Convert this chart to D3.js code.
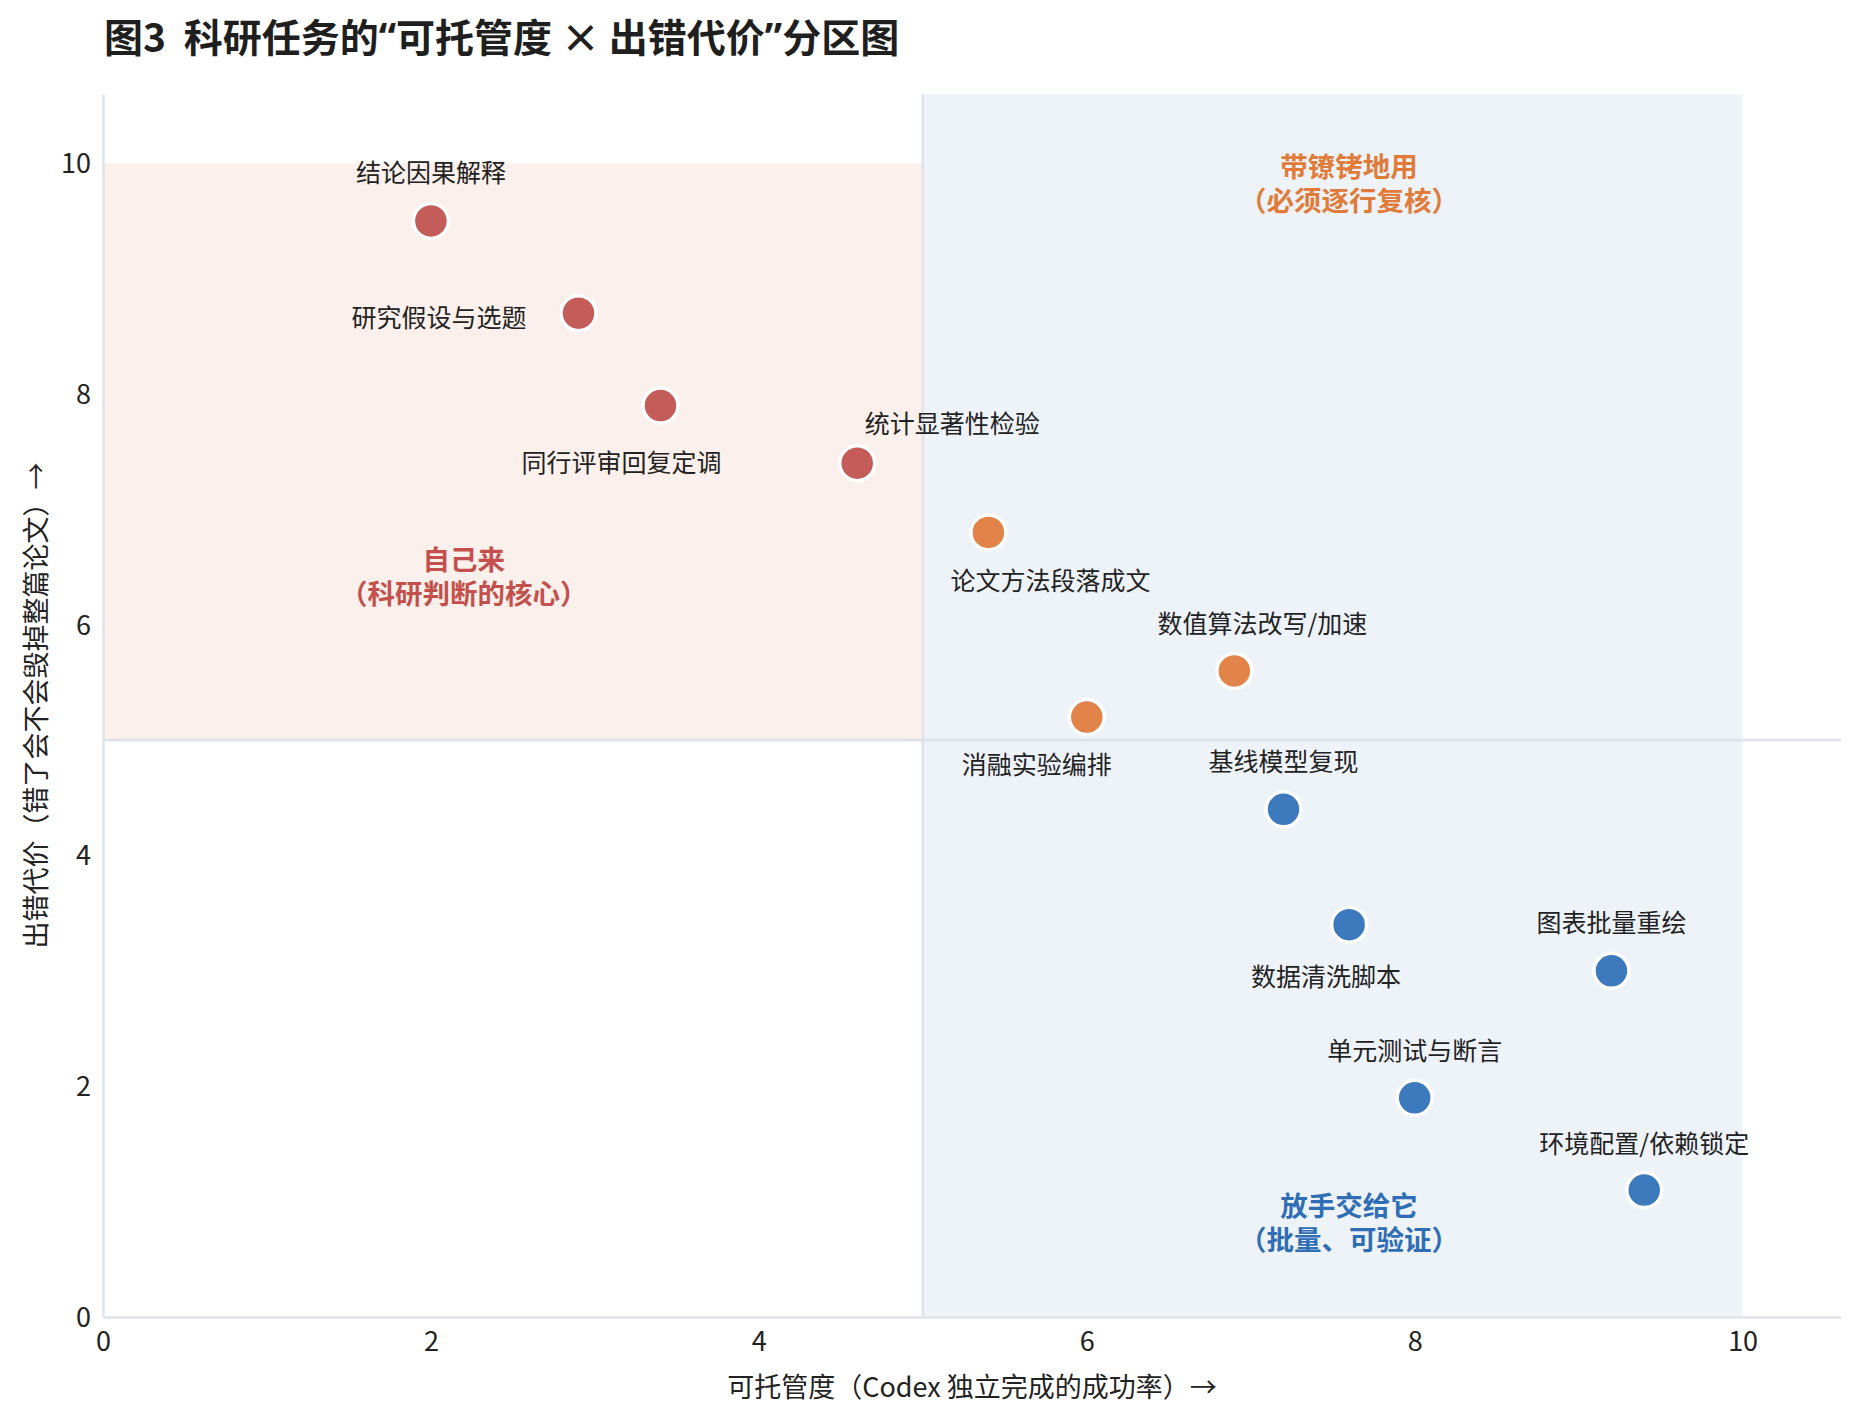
<!DOCTYPE html>
<html lang="zh-CN">
<head>
<meta charset="utf-8">
<script src="https://cdn.jsdelivr.net/npm/d3@7"></script>
<style>
  html, body { margin: 0; padding: 0; background: #fff; }
  svg { display: block; font-family: "Noto Sans CJK SC", "Noto Sans", sans-serif; }
</style>
</head>
<body>
<svg id="chart" width="1859" height="1419"></svg>
<script>
// 科研任务分区图：可托管度 x 出错代价
const TASKS = [
  "结论因果解释", "研究假设与选题", "同行评审回复定调", "统计显著性检验",
  "论文方法段落成文", "数值算法改写/加速", "消融实验编排",
  "基线模型复现", "数据清洗脚本", "图表批量重绘", "单元测试与断言", "环境配置/依赖锁定",
];
const TRUST = [2.0, 2.9, 3.4, 4.6, 5.4, 6.9, 6.0, 7.2, 7.6, 9.2, 8.0, 9.4];
const COST = [9.5, 8.7, 7.9, 7.4, 6.8, 5.6, 5.2, 4.4, 3.4, 3.0, 1.9, 1.1];
const GROUP = ["self", "self", "self", "self", "careful", "careful", "careful", "free", "free", "free", "free", "free"];

// 标签相对点的偏移（像素）与对齐
const LABEL_DX = [0, -52, -39, 95, 62, 28, -50, 0, -23, 0, 0, 0];
const LABEL_DY = [-50, 3, 55, -41, 47, -49, 46, -49, 50, -50, -49, -48];
const LABEL_ANCHOR = ["middle", "end", "middle", "middle", "middle", "middle", "middle", "middle", "middle", "middle", "middle", "middle"];

const ZONE_NAMES = ["self", "careful", "free"];
const ZONE_TITLES = ["自己来", "带镣铐地用", "放手交给它"];
const ZONE_SUBTITLES = ["（科研判断的核心）", "（必须逐行复核）", "（批量、可验证）"];
const ZONE_X = [2.2, 7.6, 7.6];
const ZONE_Y = [6.43, 9.84, 0.83];

const X_TICKS = [0, 2, 4, 6, 8, 10];
const Y_TICKS = [0, 2, 4, 6, 8, 10];
const THRESHOLD = 5;
const TOP = 10;
const LIMIT = 10.6;

const POINT_COLORS = { self: "#c45c5a", careful: "#e2844a", free: "#3d79bd" };
const TEXT_COLORS = { self: "#c4504e", careful: "#e07b39", free: "#2f6eb5" };
const LINE_COLOR = "#dfe3ea";

const svg = d3.select("#chart");

const x = d3.scaleLinear().domain([0, LIMIT]).range([103, 1841]);
const y = d3.scaleLinear().domain([0, LIMIT]).range([1317, 94]);

// 背景分区
svg.append("rect")
  .attr("x", x(0)).attr("y", y(TOP))
  .attr("width", x(THRESHOLD) - x(0)).attr("height", y(THRESHOLD) - y(TOP))
  .attr("fill", "#fbf0eb");
svg.append("rect")
  .attr("x", x(THRESHOLD)).attr("y", y(LIMIT))
  .attr("width", x(TOP) - x(THRESHOLD)).attr("height", y(0) - y(LIMIT))
  .attr("fill", "#eef3fa");

// 分界线
svg.append("line")
  .attr("x1", x(0)).attr("x2", x(LIMIT))
  .attr("y1", y(THRESHOLD)).attr("y2", y(THRESHOLD))
  .attr("stroke", LINE_COLOR).attr("stroke-width", 2.7);
svg.append("line")
  .attr("x1", x(THRESHOLD)).attr("x2", x(THRESHOLD))
  .attr("y1", y(0)).attr("y2", y(LIMIT))
  .attr("stroke", LINE_COLOR).attr("stroke-width", 2.7);

// 坐标轴
const xAxis = svg.append("g")
  .attr("transform", `translate(0,${y(0)})`)
  .call(d3.axisBottom(x).tickValues(X_TICKS).tickSize(0).tickSizeOuter(0));
const yAxis = svg.append("g")
  .attr("transform", `translate(${x(0)},0)`)
  .call(d3.axisLeft(y).tickValues(Y_TICKS).tickSize(0).tickSizeOuter(0));

[xAxis, yAxis].forEach((g) => {
  g.select(".domain").attr("stroke", LINE_COLOR).attr("stroke-width", 2.5);
  g.selectAll("text")
    .attr("fill", "#222")
    .attr("font-size", 27)
    .attr("font-family", "'Noto Sans CJK SC', sans-serif");
});
xAxis.selectAll("text").attr("y", 25).attr("dy", "0.35em");
yAxis.selectAll("text").attr("x", -12).attr("dy", "0.35em");

// 轴标题
svg.append("text")
  .attr("x", (x(0) + x(LIMIT)) / 2).attr("y", 1385)
  .attr("text-anchor", "middle").attr("dominant-baseline", "central")
  .attr("font-size", 27).attr("fill", "#222")
  .text("可托管度（Codex 独立完成的成功率）→");
svg.append("text")
  .attr("transform", `translate(34,${(y(0) + y(LIMIT)) / 2}) rotate(-90)`)
  .attr("text-anchor", "middle").attr("dominant-baseline", "central")
  .attr("font-size", 27).attr("fill", "#222")
  .text("出错代价（错了会不会毁掉整篇论文）→");

// 标题：引号用窄字形
const title = svg.append("text")
  .attr("x", 104).attr("y", 35)
  .attr("dominant-baseline", "central")
  .style("white-space", "pre")
  .attr("font-size", 39).attr("font-weight", 700).attr("fill", "#1f1f1f");
[
  ["图3  科研任务的", null],
  ["“", "'Noto Sans', sans-serif"],
  ["可托管度 × 出错代价", null],
  ["”", "'Noto Sans', sans-serif"],
  ["分区图", null],
].forEach(([s, font]) => {
  const span = title.append("tspan").text(s);
  if (font) span.attr("font-family", font);
});

// 点
const rows = TASKS.map((name, i) => ({ name, trust: TRUST[i], cost: COST[i], group: GROUP[i], i }));

svg.append("g")
  .selectAll("circle")
  .data(rows)
  .join("circle")
  .attr("cx", (d) => x(d.trust))
  .attr("cy", (d) => y(d.cost))
  .attr("r", 17.5)
  .attr("fill", (d) => POINT_COLORS[d.group])
  .attr("stroke", "#fff")
  .attr("stroke-width", 3.5);

svg.append("g")
  .selectAll("text")
  .data(rows)
  .join("text")
  .attr("x", (d) => x(d.trust) + LABEL_DX[d.i])
  .attr("y", (d) => y(d.cost) + LABEL_DY[d.i])
  .attr("text-anchor", (d) => LABEL_ANCHOR[d.i])
  .attr("dominant-baseline", "central")
  .attr("font-size", 25)
  .attr("fill", "#222")
  .text((d) => d.name);

// 分区说明（两行，分别作为独立文本）
ZONE_NAMES.forEach((z, i) => {
  [ZONE_TITLES[i], ZONE_SUBTITLES[i]].forEach((s, k) => {
    svg.append("text")
      .attr("x", x(ZONE_X[i]))
      .attr("y", y(ZONE_Y[i]) + (k === 0 ? -17 : 17))
      .attr("text-anchor", "middle")
      .attr("dominant-baseline", "central")
      .attr("font-size", 27.5)
      .attr("font-weight", 700)
      .attr("fill", TEXT_COLORS[z])
      .text(s);
  });
});
</script>
</body>
</html>
